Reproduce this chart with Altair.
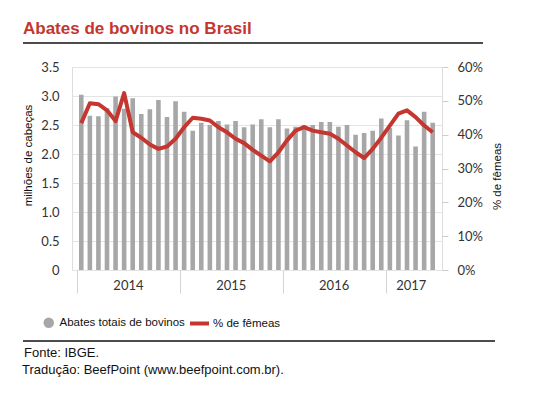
import altair as alt
import pandas as pd

# ---- data ----
years = ["2014", "2015", "2016", "2017"]
months_per_year = [12, 12, 12, 6]

abates = [
    3.02, 2.66, 2.65, 2.79, 2.99, 2.78, 2.96, 2.69, 2.77, 2.93, 2.64, 2.91,  # 2014
    2.73, 2.40, 2.54, 2.50, 2.57, 2.51, 2.57, 2.46, 2.51, 2.60, 2.46, 2.60,  # 2015
    2.44, 2.47, 2.50, 2.50, 2.55, 2.55, 2.47, 2.50, 2.33, 2.36, 2.40, 2.61,  # 2016
    2.45, 2.32, 2.58, 2.13, 2.73, 2.54,                                      # 2017
]
femeas = [
    43.4, 49.3, 49.0, 47.2, 44.0, 52.3, 40.7, 39.1, 37.1, 35.8, 36.5, 38.8,
    42.2, 45.0, 44.7, 44.2, 42.2, 40.7, 38.8, 37.5, 35.5, 33.8, 32.1, 34.8,
    38.3, 41.2, 42.2, 41.2, 40.7, 40.3, 38.8, 36.8, 34.8, 33.1, 35.8, 39.1,
    42.7, 46.2, 47.2, 45.2, 42.7, 40.7,
]
serie_barras = "Abates totais de bovinos"
serie_linha = "% de fêmeas"
fonte = "Fonte: IBGE."
traducao = "Tradução: BeefPoint (www.beefpoint.com.br)."

# ---- tables ----
n = len(abates)
df = pd.DataFrame({
    "m": [i + 0.5 for i in range(n)],
    "abates": abates,
    "femeas": femeas,
    "s1": [serie_barras] * n,
    "s2": [serie_linha] * n,
})
starts = [sum(months_per_year[:i]) for i in range(len(years))]
df_years = pd.DataFrame({
    "ano": years,
    "mid": [s + c / 2 for s, c in zip(starts, months_per_year)],
})
one = pd.DataFrame({"k": [0]})

W, H = 370, 203
RED = "#c4362f"
GRAY = "#a7a7a7"
LABEL_FONT = "Lato"
TEXT_FONT = "Liberation Sans"

x = alt.X(
    "m:Q",
    scale=alt.Scale(domain=[0, n], nice=False, zero=False),
    axis=alt.Axis(values=starts, labels=False, tickSize=23, tickColor="#d4d4d4",
                  tickWidth=1, domain=False, grid=False, title=None),
)

bars = alt.Chart(df).mark_bar(size=4.6).encode(
    x=x,
    y=alt.Y(
        "abates:Q",
        scale=alt.Scale(domain=[0, 3.5], nice=False),
        axis=alt.Axis(
            values=[0, 0.5, 1, 1.5, 2, 2.5, 3, 3.5],
            labelExpr="datum.value == 0 ? '0' : format(datum.value, '.1f')",
            ticks=False, domain=False, grid=True, gridColor="#e4e4e4",
            labelPadding=13, labelFont=LABEL_FONT, labelFontSize=13, labelColor="#333333",
            title="milhões de cabeças", titleFont=TEXT_FONT, titleFontSize=11.5,
            titleFontWeight="normal", titleColor="#111111", titleAngle=270,
            titleX=-44, titleY=88, titleAlign="center", titleBaseline="middle",
        ),
    ),
    color=alt.Color(
        "s1:N",
        scale=alt.Scale(range=[GRAY]),
        legend=alt.Legend(orient="none", legendX=-29, legendY=250, title=None,
                          symbolType="circle", symbolSize=110, symbolStrokeWidth=0,
                          labelFont=TEXT_FONT, labelFontSize=11.5, labelColor="#111111",
                          labelOffset=5),
    ),
)

line = alt.Chart(df).mark_line(strokeWidth=4, strokeJoin="round").encode(
    x=x,
    y=alt.Y(
        "femeas:Q",
        scale=alt.Scale(domain=[0, 60], nice=False),
        axis=alt.Axis(
            orient="right", values=[0, 10, 20, 30, 40, 50, 60],
            labelExpr="datum.value + '%'",
            ticks=True, tickSize=6, tickColor="#cccccc", domain=False, grid=False,
            labelPadding=9, labelFont=LABEL_FONT, labelFontSize=13, labelColor="#333333",
            title=serie_linha, titleFont=TEXT_FONT, titleFontSize=11.5,
            titleFontWeight="normal", titleColor="#111111", titleAngle=270,
            titleX=55, titleY=109, titleAlign="center", titleBaseline="middle",
        ),
    ),
    stroke=alt.Stroke(
        "s2:N",
        scale=alt.Scale(range=[RED]),
        legend=alt.Legend(orient="none", legendX=116, legendY=245, title=None,
                          symbolType="stroke", symbolSize=361, symbolStrokeWidth=4,
                          labelFont=TEXT_FONT, labelFontSize=11.5, labelColor="#111111",
                          labelOffset=2),
    ),
)

year_labels = alt.Chart(df_years).mark_text(
    font=LABEL_FONT, fontSize=13, color="#333333", baseline="middle"
).encode(
    x=alt.X("mid:Q", scale=alt.Scale(domain=[0, n], nice=False, zero=False)),
    y=alt.value(H + 16),
    text="ano:N",
)

rule_top = alt.Chart(one).mark_rule(color="#111111", strokeWidth=1.5).encode(
    x=alt.value(-49), x2=alt.value(411), y=alt.value(-24)
)
rule_bottom = alt.Chart(one).mark_rule(color="#111111", strokeWidth=1.5).encode(
    x=alt.value(-49), x2=alt.value(423), y=alt.value(274)
)
foot1 = alt.Chart(one).mark_text(
    font=TEXT_FONT, fontSize=13, color="#111111", align="left", baseline="alphabetic"
).encode(x=alt.value(-48), y=alt.value(290), text=alt.value(fonte))
foot2 = alt.Chart(one).mark_text(
    font=TEXT_FONT, fontSize=13, color="#111111", align="left", baseline="alphabetic"
).encode(x=alt.value(-50), y=alt.value(307), text=alt.value(traducao))

bars_line = alt.layer(bars, line).resolve_scale(y="independent", color="independent")

chart = alt.layer(
    bars_line, year_labels, rule_top, rule_bottom, foot1, foot2
).properties(
    width=W,
    height=H,
    autosize=alt.AutoSizeParams(type="none"),
    padding={"left": 64, "top": 59, "right": 97, "bottom": 123},
    title=alt.TitleParams(
        text="Abates de bovinos no Brasil", anchor="start", frame="group",
        font=TEXT_FONT, fontSize=17, fontWeight="bold", color=RED,
        dx=-49, offset=27, dy=23,
    ),
).configure_view(stroke=None).configure(background="white")

chart.save("out.html", embed_options={"renderer": "svg", "actions": False})
